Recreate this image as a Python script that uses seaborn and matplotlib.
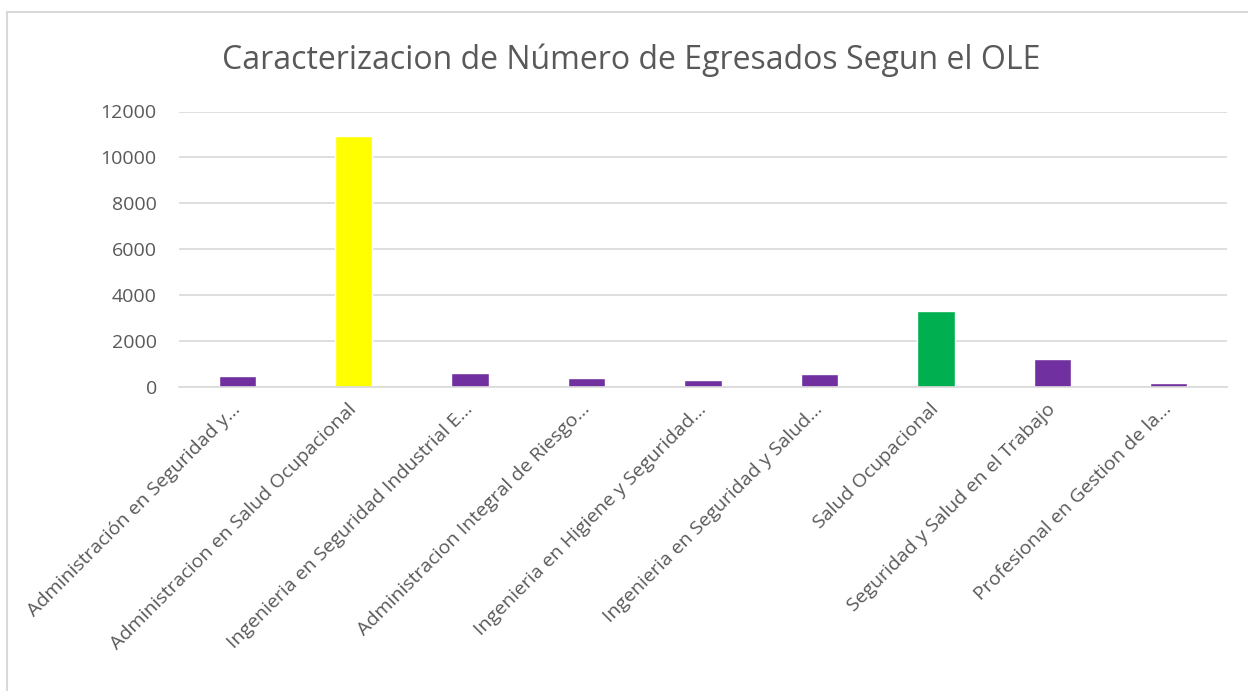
import matplotlib
matplotlib.use('Agg')
import matplotlib.pyplot as plt
from matplotlib.patches import Rectangle
import seaborn as sns
import pandas as pd

# data
programas = [
    'Administración en Seguridad y...',
    'Administracion en Salud Ocupacional',
    'Ingenieria en Seguridad Industrial E...',
    'Administracion Integral de Riesgo...',
    'Ingenieria en Higiene y Seguridad...',
    'Ingenieria en Seguridad y Salud...',
    'Salud Ocupacional',
    'Seguridad y Salud en el Trabajo',
    'Profesional en Gestion de la...',
]
egresados = [490, 10940, 595, 388, 292, 569, 3328, 1226, 161]
colores = ['#7030A0', '#FFFF00', '#7030A0', '#7030A0', '#7030A0',
           '#7030A0', '#00B050', '#7030A0', '#7030A0']
yticks = [0, 2000, 4000, 6000, 8000, 10000, 12000]

titulo = 'Caracterizacion de Número de Egresados Segun el OLE'

sns.set_theme(style='white')
plt.rcParams['font.family'] = ['Open Sans', 'DejaVu Sans']

data = pd.DataFrame({'programa': programas, 'egresados': egresados})

fig = plt.figure(figsize=(12.48, 6.91), dpi=100)
W, H = 1248, 691
ax = fig.add_axes([179 / W, 1 - 387 / H, (1227 - 179) / W, (387 - 111.5) / H])

sns.barplot(data, x='programa', y='egresados', hue='programa',
            palette=colores, width=0.32, legend=False, ax=ax,
            saturation=1)

ax.set_ylim(0, 12000)
ax.set_yticks(yticks)
ax.set_yticklabels([str(v) for v in yticks], fontsize=14, color='#595959')
ax.yaxis.grid(True, color='#d9d9d9', linewidth=1.2)
ax.set_axisbelow(True)
for s in ['top', 'right', 'left']:
    ax.spines[s].set_visible(False)
ax.spines['bottom'].set_color('#d9d9d9')
ax.spines['bottom'].set_linewidth(1.2)
ax.tick_params(axis='y', length=0, pad=16)
ax.tick_params(axis='x', length=0, pad=14)
ax.set_xlabel('')
ax.set_ylabel('')
ax.set_xticks(range(len(programas)))
ax.set_xticklabels(programas, rotation=45, ha='right', va='center',
                   rotation_mode='anchor', fontsize=14, color='#595959')

fig.text(631 / W, 1 - 60 / H, titulo, ha='center', va='center',
         fontsize=23, color='#595959')

# outer chart border
fig.patches.append(Rectangle((7 / W, -0.1), 1.2, 1 - 12 / H + 0.1,
                             transform=fig.transFigure, fill=False,
                             edgecolor='#d9d9d9', linewidth=1.5))

plt.savefig('out.png', dpi=100)
